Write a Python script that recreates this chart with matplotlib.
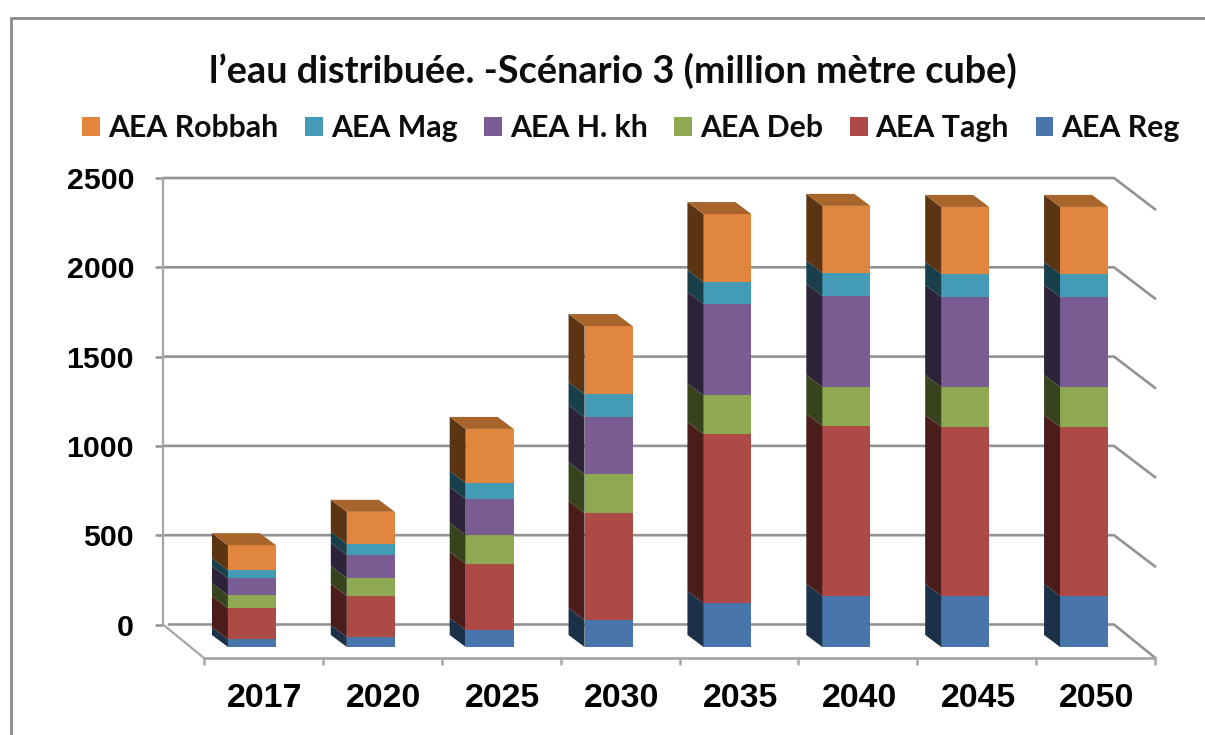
import matplotlib
matplotlib.use("Agg")
import matplotlib.pyplot as plt
from matplotlib.lines import Line2D
from matplotlib.patches import Polygon
from matplotlib.transforms import ScaledTranslation
import numpy as np

years = ["2017", "2020", "2025", "2030", "2035", "2040", "2045", "2050"]
series_names = ["AEA Reg", "AEA Tagh", "AEA Deb", "AEA H. kh", "AEA Mag", "AEA Robbah"]
aea_reg = [43, 56, 95, 151, 246, 286, 286, 286]
aea_tagh = [174, 230, 370, 599, 946, 952, 946, 946]
aea_deb = [73, 101, 162, 218, 218, 218, 224, 224]
aea_hkh = [95, 129, 202, 319, 510, 510, 504, 504]
aea_mag = [45, 62, 90, 129, 123, 129, 129, 129]
aea_robbah = [140, 179, 302, 381, 381, 375, 375, 375]
series_values = [aea_reg, aea_tagh, aea_deb, aea_hkh, aea_mag, aea_robbah]
front_colors = ["#4875AB", "#AE4A46", "#8FA852", "#785C92", "#449BB5", "#E0863F"]
side_colors = ["#1C3147", "#4A1C1A", "#37431C", "#2D2339", "#193F4B", "#5A3413"]
top_color = "#A7652C"
y_ticks = [0, 500, 1000, 1500, 2000, 2500]

W, H = 1205, 735
GRID = "#939393"
AXIS = "#A6A6A6"
plt.rcParams["font.family"] = ["Liberation Sans", "DejaVu Sans"]

fig = plt.figure(figsize=(W / 100, H / 100), dpi=100, facecolor="white")
x0_px, x1_px, y_bottom_px, y_top_px = 204, 1155, 658, 178
ax = fig.add_axes([x0_px / W, 1 - y_bottom_px / H,
                   (x1_px - x0_px) / W, (y_bottom_px - y_top_px) / H])
px_per_cat = (x1_px - x0_px) / len(years)
px_per_val = 0.1786
ax.set_xlim(-0.5, len(years) - 0.5)
ax.set_ylim(-(y_bottom_px - 624.5) / px_per_val, 2500)
ax.set_facecolor("none")

for s in ("top", "right"):
    ax.spines[s].set_visible(False)
ax.spines["left"].set_position(("outward", 41 * 0.72))
ax.spines["left"].set_bounds(0, 2500)
ax.spines["left"].set_color(AXIS)
ax.spines["left"].set_linewidth(1.6)
ax.spines["bottom"].set_color(AXIS)
ax.spines["bottom"].set_linewidth(2.0)

ax.set_yticks(y_ticks)
ax.set_yticklabels([str(v) for v in y_ticks], fontsize=21.8, fontweight="bold")
ax.tick_params(axis="y", length=5.8, width=1.8, color=GRID, pad=15)
ax.set_xticks(range(len(years)))
ax.set_xticklabels(years, fontsize=24.4, fontweight="bold")
ax.set_xticks(np.arange(-0.5, len(years)), minor=True)
ax.tick_params(axis="x", which="major", length=0, pad=18)
ax.tick_params(axis="x", which="minor", length=5.2, width=1.8, color=AXIS)
for lab in ax.get_xticklabels():
    lab.set_transform(lab.get_transform() + ScaledTranslation(1.5 / 100, 0, fig.dpi_scale_trans))

# walls and floor
wall_dx = 41 / px_per_cat
side_dx = 42 / px_per_cat
side_dy = 32 / px_per_val
for v in y_ticks:
    drop = 34 / px_per_val if v == 0 else side_dy
    ax.plot([-0.5 - wall_dx + 0.04 if v == 0 else -0.5 - wall_dx, 7.5 - wall_dx, 7.5 - wall_dx + side_dx],
            [v, v, v - drop], color=GRID, lw=1.9, clip_on=False, zorder=1, solid_capstyle="butt")
ax.plot([-0.5 - wall_dx, -0.5], [0, ax.get_ylim()[0]], color=AXIS, lw=1.6, clip_on=False, zorder=1)

# 3D columns: a front bar plus projected side and top faces
to_front = ax.transData + ScaledTranslation(-11.5 / 100, -22.5 / 100, fig.dpi_scale_trans)
bar_w = 48 / px_per_cat
dx = 16 / px_per_cat
dy = 12 / px_per_val
x = np.arange(len(years))
bottoms = np.zeros(len(years))
handles = []
for vals, fc, sc, name in zip(series_values, front_colors, side_colors, series_names):
    vals = np.array(vals, dtype=float)
    bars = ax.bar(x, vals, bar_w, bottom=bottoms, color=fc, linewidth=0,
                  transform=to_front, zorder=3, label=name)
    handles.append(bars)
    for xi, b, v in zip(x, bottoms, vals):
        left = xi - bar_w / 2
        ax.add_patch(Polygon([(left, b), (left, b + v), (left - dx, b + v + dy), (left - dx, b + dy)],
                             closed=True, fc=sc, ec="none", transform=to_front, zorder=3, clip_on=False))
    bottoms = bottoms + vals
for xi, t in zip(x, bottoms):
    left, right = xi - bar_w / 2, xi + bar_w / 2
    ax.add_patch(Polygon([(left, t), (right, t), (right - dx, t + dy), (left - dx, t + dy)],
                         closed=True, fc=top_color, ec="none", transform=to_front, zorder=3, clip_on=False))

fig.text(613 / W, 1 - 71 / H, "l’eau distribuée. -Scénario 3 (million mètre cube)",
         ha="center", va="center", fontsize=27.3, fontweight="bold", family=["Lato", "DejaVu Sans"], color="#0D0D0D")

leg = fig.legend(handles[::-1], series_names[::-1], ncol=6, loc="center",
                 bbox_to_anchor=(631 / W, 1 - 128 / H), frameon=False,
                 prop={"family": "Lato", "weight": "bold", "size": 21.8},
                 handlelength=0.59, handleheight=0.59, handletextpad=0.26, columnspacing=0.88)
for t in leg.get_texts():
    t.set_color("#0D0D0D")

# chart frame
fig.add_artist(Line2D([11 / W, 11 / W, 1], [0, 1 - 18 / H, 1 - 18 / H], color="#8C8C8C", lw=2.0,
                      transform=fig.transFigure, solid_joinstyle="miter"))

fig.savefig("out.png", dpi=100)
